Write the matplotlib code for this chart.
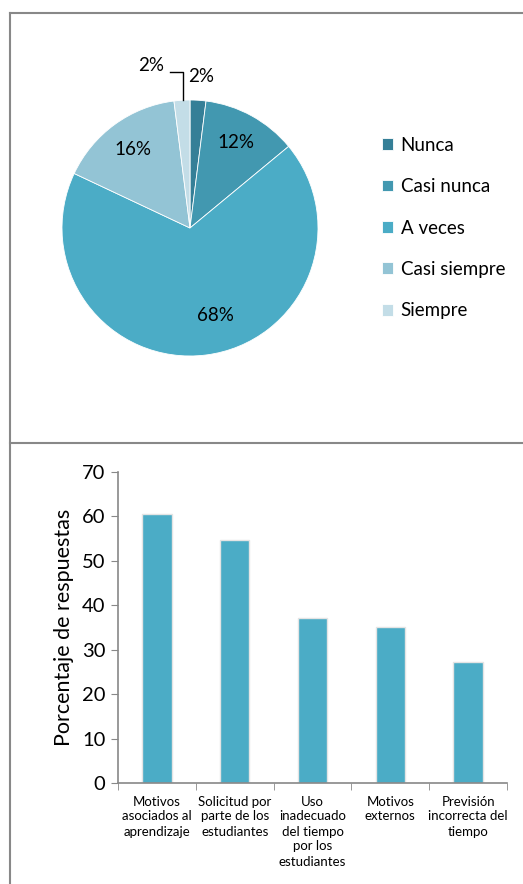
import matplotlib.pyplot as plt
from matplotlib.lines import Line2D
import numpy as np

plt.rcParams['font.family'] = ['Lato', 'DejaVu Sans']

# datos del grafico circular
pie_labels = ['Nunca', 'Casi nunca', 'A veces', 'Casi siempre', 'Siempre']
pie_values = [2, 12, 68, 16, 2]
pie_colors = ['#357f97', '#4298b0', '#4bacc6', '#93c4d5', '#c3dde7']

# datos del grafico de barras
bar_labels = ['Motivos\nasociados al\naprendizaje', 'Solicitud por\nparte de los\nestudiantes',
              'Uso\ninadecuado\ndel tiempo\npor los\nestudiantes', 'Motivos\nexternos',
              'Previsión\nincorrecta del\ntiempo']
bar_values = [60.6, 54.8, 37.1, 35.1, 27.3]
bar_ticks = [0, 10, 20, 30, 40, 50, 60, 70]

W, H = 523, 884
fig = plt.figure(figsize=(W / 100, H / 100), dpi=100)

def box(l, t, r, b):
    return [l / W, 1 - b / H, (r - l) / W, (b - t) / H]

# marcos de los dos graficos
gray = '#888888'
for xs, ys in [([10, 10], [13, 884]), ([10, 530], [13, 13]), ([10, 530], [443, 443])]:
    fig.add_artist(Line2D([x / W for x in xs], [1 - y / H for y in ys], color=gray, lw=1.5))

# grafico circular
ax1 = fig.add_axes(box(62, 100, 318, 356))
wedges, _ = ax1.pie(pie_values, colors=pie_colors, startangle=90, counterclock=False,
                    wedgeprops=dict(edgecolor='white', linewidth=0.6))
ax1.set_xlim(-1, 1)
ax1.set_ylim(-1, 1)
ax1.set_aspect('equal')

label_pos = [(0.09, 1.18), (0.36, 0.67), (0.2, -0.68), (-0.445, 0.61), (-0.30, 1.27)]
for (x, y), v in zip(label_pos, pie_values):
    ax1.text(x, y, f'{v}%', ha='center', va='center', fontsize=13.5, clip_on=False)
ax1.plot([-0.16, -0.055, -0.055], [1.22, 1.22, 1.0], color='black', lw=1, clip_on=False)

fig.legend(wedges, pie_labels, loc='center left', bbox_to_anchor=(365 / W, 1 - 228 / H),
           frameon=False, fontsize=13.5, handlelength=0.6, handleheight=0.6,
           handletextpad=0.4, labelspacing=1.3)

# grafico de barras
ax2 = fig.add_axes(box(118, 472, 507, 783))
x = np.arange(len(bar_values))
ax2.bar(x, bar_values, width=0.38, color='#4bacc6', edgecolor='#e4e4e4', linewidth=1)
ax2.set_xlim(-0.5, len(bar_values) - 0.5)
ax2.set_ylim(0, 70)
ax2.set_yticks(bar_ticks)
ax2.tick_params(axis='y', labelsize=14.5, length=5, color=gray, pad=4)
ax2.set_xticks(x)
ax2.set_xticklabels(bar_labels, fontsize=9.5, linespacing=1.3)
ax2.set_xticks(np.arange(len(bar_values) + 1) - 0.5, minor=True)
ax2.tick_params(axis='x', which='major', length=0, pad=9)
ax2.tick_params(axis='x', which='minor', length=5, color=gray)
ax2.set_ylabel('Porcentaje de respuestas', fontsize=15.5, labelpad=6)
for s in ['top', 'right']:
    ax2.spines[s].set_visible(False)
for s in ['left', 'bottom']:
    ax2.spines[s].set_color(gray)
    ax2.spines[s].set_linewidth(1.2)

fig.savefig('out.png', dpi=100)
